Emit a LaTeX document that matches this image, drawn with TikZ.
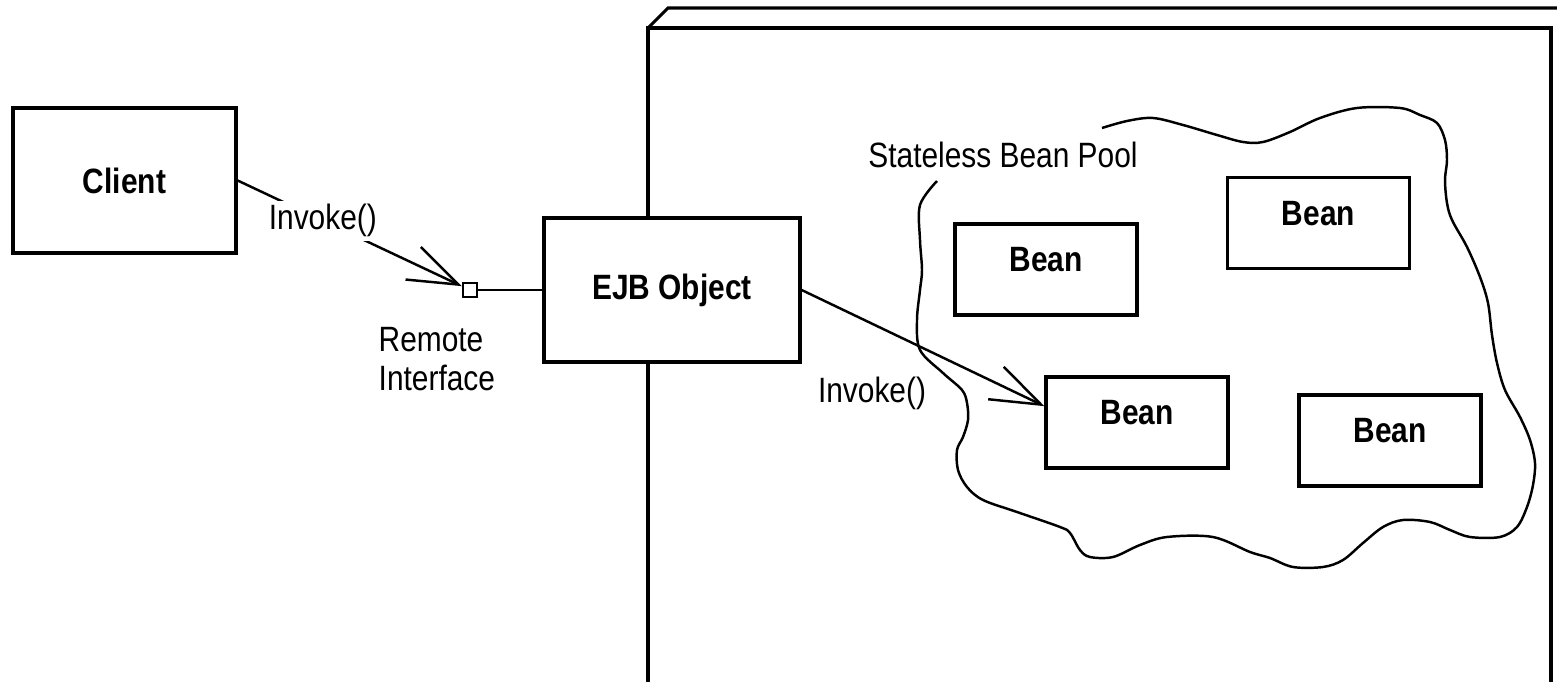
\documentclass[tikz,border=0pt]{standalone}
\usepackage{fontspec}
\setmainfont{Liberation Sans}[FakeStretch=0.85]
\usepackage{tikz}
\usetikzlibrary{arrows.meta,positioning}

\begin{document}
\begin{tikzpicture}[x=0.01cm, y=-0.01cm,
    block/.style={rectangle, draw, line width=0.9pt, fill=white, font=\bfseries},
    bean/.style={block, minimum width=1.82cm, minimum height=0.91cm, text depth=0.2cm},
    port/.style={rectangle, draw, line width=0.7pt, fill=white, minimum size=0.14cm, inner sep=0pt},
    wall/.style={line width=0.9pt},
    link/.style={line width=0.7pt},
    arrow/.style={link, -{Straight Barb[length=5mm, width=3.6mm]}}]

    \useasboundingbox (0,0) rectangle (1557,682);

    % container
    \draw[wall] (648,682) -- (648,28) -- (1551,28) -- (1551,682);
    \draw[wall] (648,28) -- (668,8) -- (1557,8);

    % bean pool outline
    \draw[link] plot[smooth, tension=0.55] coordinates {
        (1102,128) (1127,121) (1153,118) (1183,125) (1217,135) (1243,142) (1263,142)
        (1290,132) (1320,118) (1357,108) (1400,108) (1420,115) (1437,123) (1445,140)
        (1447,160) (1445,180) (1447,203) (1452,220) (1467,247) (1480,277) (1488,303)
        (1492,335) (1497,363) (1505,390) (1520,417) (1530,440) (1535,463) (1533,485)
        (1527,507) (1517,527) (1500,537) (1470,537) (1450,530) (1430,522) (1403,520)
        (1383,527) (1363,543) (1343,560) (1323,567) (1293,567) (1270,558) (1250,552)
        (1213,537) (1167,537) (1140,545) (1113,557) (1090,557) (1080,550) (1070,533)
        (1060,527) (1017,512) (983,500) (967,487) (958,470) (957,450) (963,437)
        (968,420) (967,403) (962,390) (943,373) (920,350) (917,320) (920,290)
        (922,270) (920,240) (920,205) (937,181)};

    \node [block, minimum width=2.23cm, minimum height=1.45cm] (client) at (124.5,180.5) {Client};
    \node [block, minimum width=2.56cm, minimum height=1.44cm] (ejb) at (672,290) {EJB Object};
    \node [port] (remote) at (470,290) {};
    \node [anchor=north west, align=left, inner sep=0pt, font=\fontsize{10}{11}\selectfont] (iface) at (378,327) {Remote\\Interface};

    \node (pool) at (1003,155) {Stateless Bean Pool};
    \node [bean] (bean1) at (1046,269.5) {Bean};
    \node [bean] (bean2) at (1318.5,223) {Bean};
    \node [bean] (bean3) at (1137,422.5) {Bean};
    \node [bean] (bean4) at (1390,440.5) {Bean};
    \node (call2) at (872,393) {Invoke()};

    \draw [arrow] (client.east) -- node[pos=0.38, fill=white, inner sep=1pt] (call1) {Invoke()} (remote);
    \draw [link] (remote) -- (ejb);
    \draw [arrow] (ejb.east) -- (bean3.170);
\end{tikzpicture}
\end{document}
